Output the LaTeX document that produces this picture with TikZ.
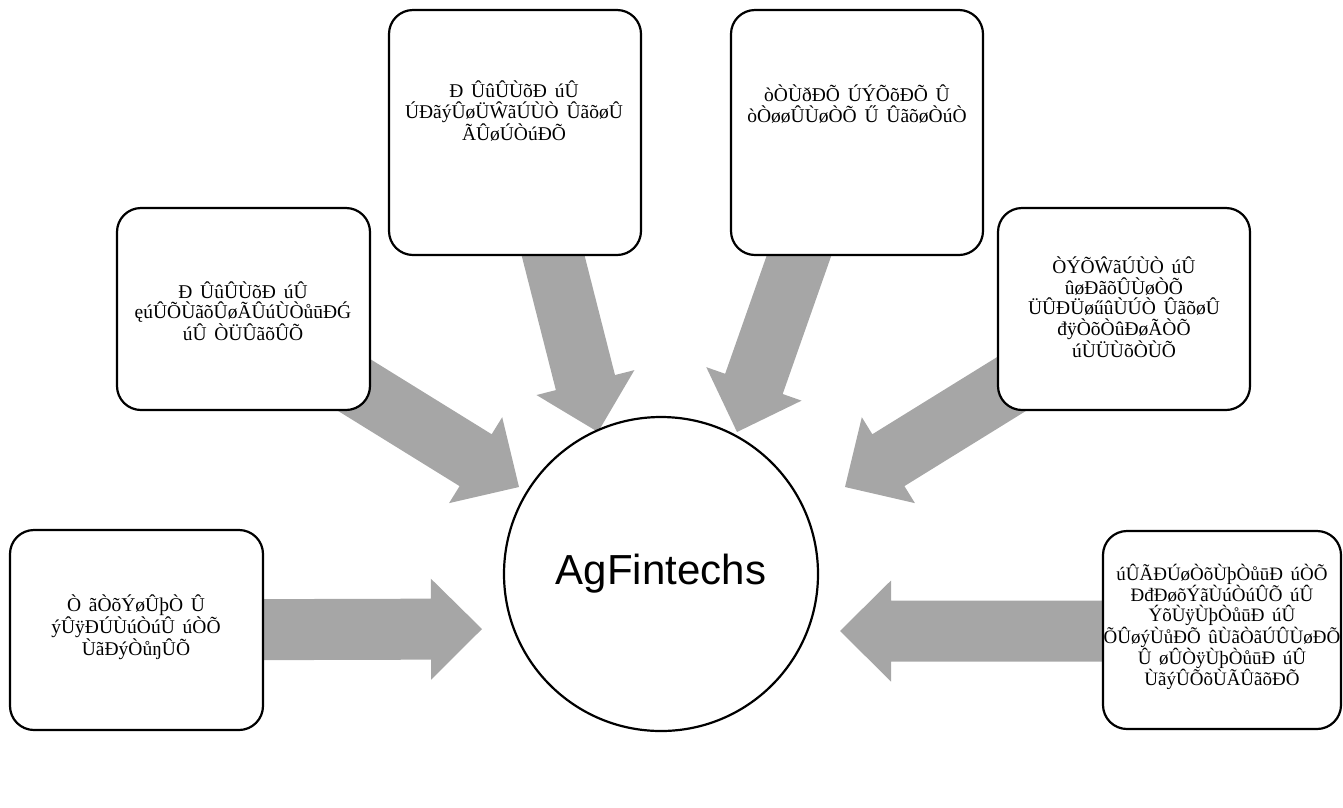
\documentclass[tikz,border=0pt]{standalone}
\usepackage{fontspec}
\setmainfont{Liberation Serif}[WordSpace=1.6]
\newfontfamily\arialfont{Liberation Sans}
\usetikzlibrary{calc,backgrounds}
\definecolor{arrowgray}{RGB}{166,166,166}
\tikzset{
  boxnode/.style={draw=black, line width=2.2pt, fill=white, rounded corners=24pt, rectangle, inner sep=0pt},
  hubnode/.style={draw=black, line width=2.2pt, fill=white, circle, minimum size=314pt, inner sep=0pt, font=\arialfont\fontsize{42}{48}\selectfont},
  boxtext/.style={align=center, inner sep=0pt, font=\fontsize{19.5}{20.5}\selectfont},
  smalltext/.style={align=center, inner sep=0pt, font=\fontsize{19}{20}\selectfont},
  blockarrow/.style={fill=arrowgray, draw=none}
}
% #1 tail coordinate, #2 tip coordinate
\newcommand{\convarrow}[2]{%
  \coordinate (hbA) at ($(#2)!51pt!(#1)$);
  \fill[blockarrow] ($(#1)!30.5pt!90:(#2)$) -- ($(hbA)!30.5pt!90:(#2)$) -- ($(hbA)!50.5pt!90:(#2)$) -- (#2)
     -- ($(hbA)!50.5pt!-90:(#2)$) -- ($(hbA)!30.5pt!-90:(#2)$) -- ($(#1)!30.5pt!-90:(#2)$) -- cycle;
}
\begin{document}
\begin{tikzpicture}[x=1pt,y=-1pt]
\useasboundingbox (0,0) rectangle (1343,807);

% boxes
\node[boxnode, minimum width=252pt, minimum height=245pt] (b1) at (515,132.5) {};
\node[boxnode, minimum width=252pt, minimum height=245pt] (b2) at (857,132.5) {};
\node[boxnode, minimum width=253pt, minimum height=202pt] (bl) at (243.5,309) {};
\node[boxnode, minimum width=252pt, minimum height=202pt] (br) at (1124,309) {};
\node[boxnode, minimum width=253pt, minimum height=200pt] (bbl) at (136.5,630) {};
\node[boxnode, minimum width=238pt, minimum height=198pt] (bbr) at (1222,630) {};

% hub
\node[hubnode] (hub) at (661,574) {AgFintechs};

% arrow ends
\coordinate (tipL) at (482,629);
\coordinate (tailL) at (bbl.center);
\coordinate (tipR) at (840,631);
\coordinate (tailR) at (1160,631);
\coordinate (tipLL) at (519,487);
\coordinate (tailLL) at (283,341);
\coordinate (tipLR) at (845,487);
\coordinate (tailLR) at (1081,341);
\coordinate (tipUL) at (598,432);
\coordinate (tailUL) at (526,149);
\coordinate (tipUR) at (737,432);
\coordinate (tailUR) at (834,156);

\begin{scope}[on background layer]
  \convarrow{tailL}{tipL}
  \convarrow{tailR}{tipR}
  \convarrow{tailLL}{tipLL}
  \convarrow{tailLR}{tipLR}
  \convarrow{tailUL}{tipUL}
  \convarrow{tailUR}{tipUR}
\end{scope}

% texts
\node[boxtext] (t1) at (514,111) {Ð ÛûÛÙõÐ úÛ\\ÚÐãýÛøÜŴãÚÙÒ ÛãõøÛ\\ÃÛøÚÒúÐÕ};
\node[boxtext] (t2) at (857,104) {òÒÙðÐÕ ÚÝÕõÐÕ Û\\òÒøøÛÙøÒÕ Ű ÛãõøÒúÒ};
\node[boxtext] (tl) at (243,311) {Ð ÛûÛÙõÐ úÛ\\ęúÛÕÙãõÛøÃÛúÙÒůūÐǴ\\úÛ ÒÜÛãõÛÕ};
\node[boxtext] (tr) at (1124,307) {ÒÝÕŴãÚÙÒ úÛ\\ûøÐãõÛÙøÒÕ\\ÜÛÐÜøűûÙÚÒ ÛãõøÛ\\đÿÒõÒûÐøÃÒÕ\\úÙÜÙõÒÙÕ};
\node[boxtext] (tbl) at (136,627) {Ò ãÒõÝøÛþÒ Û\\ýÛÿÐÚÙúÒúÛ úÒÕ\\ÙãÐýÒůŋÛÕ};
\node[smalltext] (tbr) at (1222,627) {úÛÃÐÚøÒõÙþÒůūÐ úÒÕ\\ÐđÐøõÝãÙúÒúÛÕ úÛ\\ÝõÙÿÙþÒůūÐ úÛ\\ÕÛøýÙůÐÕ ûÙãÒãÚÛÙøÐÕ\\Û øÛÒÿÙþÒůūÐ úÛ\\ÙãýÛÕõÙÃÛãõÐÕ};
\end{tikzpicture}
\end{document}
